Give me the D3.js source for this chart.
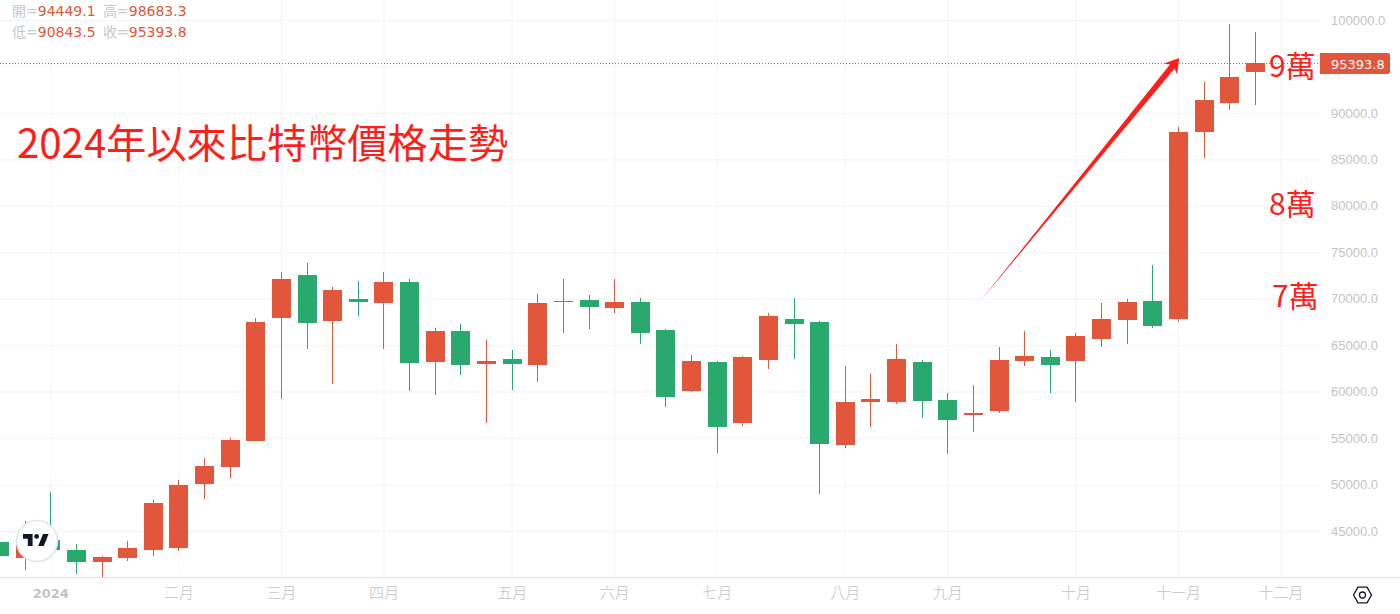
<!DOCTYPE html>
<html>
<head>
<meta charset="utf-8">
<script src="https://cdn.jsdelivr.net/npm/d3@7"></script>
<style>
  html, body { margin: 0; padding: 0; background: #fff; overflow: hidden; }
  svg { display: block; font-family: "DejaVu Sans", "Noto Sans CJK TC", sans-serif; }
  .axis text { fill: #c4c4c4; font-size: 13px; }
  .axis.months text { font-size: 15px; font-family: "Noto Sans CJK TC", sans-serif; font-weight: 300; }
  .axis .domain { display: none; }
  .axis line { stroke: #f2f3f5; }
  .note { font-family: "Noto Sans CJK TC", sans-serif; }
</style>
</head>
<body>
<svg id="chart" width="1400" height="614"></svg>
<script>
// weekly candles, BTC 2024
const opens = [43812, 42090, 44027, 42951, 41659, 42090, 42951, 43166, 50055, 51885,
  54684, 67923, 72552, 67601, 69969, 69538, 71799, 63187, 66524, 62972,
  63510, 62864, 69646, 69861, 69000, 69646, 66632, 60066, 63187, 56621,
  63403, 67816, 67493, 54253, 58882, 58882, 63187, 59097, 57482, 57913,
  63295, 63726, 63295, 65663, 67708, 69753, 67816, 87945, 91066, 94449.1];
const highs = [44800, 46073, 49194, 43597, 42305, 43920, 48333, 50486, 52854, 55007,
  67923, 72875, 73844, 71260, 71906, 72875, 72121, 66847, 67278, 65555,
  64479, 70507, 72121, 70399, 72121, 70076, 66739, 63941, 63295, 63833,
  68462, 70076, 67601, 62757, 61896, 65125, 63403, 59850, 60712, 64802,
  66524, 64479, 66309, 69538, 69969, 73628, 88483, 93327, 99570, 98683.3];
const lows = [41500, 40798, 42413, 40368, 40045, 41767, 42305, 42843, 48441, 50701,
  54684, 59205, 64587, 60819, 68139, 64587, 60066, 59635, 61788, 56621,
  60173, 61035, 66309, 66739, 68462, 65125, 58344, 59958, 53392, 56298,
  62434, 63510, 48979, 53930, 56191, 58666, 57159, 53284, 55653, 57698,
  62757, 59850, 58882, 64802, 65125, 66847, 67493, 85146, 90313, 90843.5];
const closes = [42305, 44027, 42951, 41659, 42198, 43166, 48010, 49948, 51993, 54791,
  67493, 72121, 67385, 70937, 69646, 71799, 63080, 66524, 62864, 63295,
  62972, 69538, 69753, 69108, 69646, 66309, 59420, 63295, 56191, 63726,
  68139, 67278, 54361, 58882, 59205, 63510, 58989, 56944, 57698, 63403,
  63833, 62864, 65986, 67816, 69646, 67062, 87945, 91389, 93865, 95393.8];

const priceTicks = d3.range(45000, 100001, 5000);
const monthIdx = [2, 7, 11, 15, 20, 24, 28, 33, 37, 42, 46, 50];
const monthLabels = ['2024', '二月', '三月', '四月', '五月', '六月', '七月', '八月', '九月', '十月', '十一月', '十二月'];

const legendRows = [[['開', opens], ['高', highs]], [['低', lows], ['收', closes]]];
const wanLabels = ['9萬', '8萬', '7萬'];
const title = '2024年以來比特幣價格走勢';

const upColor = '#e2563b', downColor = '#2aa96f', noteColor = '#ff1f1a';
const plotW = 1320, plotH = 577;

const svg = d3.select('#chart');

const x = d3.scaleLinear().domain([2, 50]).range([50.3, 1280.5]);
const y = d3.scaleLinear().domain([40000, 100000]).range([577.4, 20]);

svg.append('defs').append('clipPath').attr('id', 'clip')
  .append('rect').attr('width', plotW).attr('height', plotH);

// axes double as the grid
svg.append('g')
  .attr('class', 'axis months')
  .attr('transform', 'translate(0,' + plotH + ')')
  .call(d3.axisBottom(x).tickValues(monthIdx).tickSize(-plotH).tickPadding(10)
    .tickFormat((d, i) => monthLabels[i]))
  .selectAll('text')
  .filter((d, i) => i == 0)
  .style('font-family', '"DejaVu Sans", sans-serif')
  .style('font-size', '13px')
  .style('font-weight', 'bold')
  .attr('y', 12);

// the 95000 label sits under the last price tag, so it gets no text
svg.append('g')
  .attr('class', 'axis')
  .attr('transform', 'translate(' + plotW + ',0)')
  .call(d3.axisRight(y).tickValues(priceTicks).tickSize(-plotW).tickPadding(11)
    .tickFormat(d => d == 95000 ? '' : d3.format('.1f')(d)));

svg.append('line')
  .attr('x1', 0).attr('x2', 1400)
  .attr('y1', plotH + 0.5).attr('y2', plotH + 0.5)
  .attr('stroke', '#e0e3eb');

// candles
const candles = svg.append('g').attr('clip-path', 'url(#clip)')
  .selectAll('g')
  .data(opens.map((o, i) => i))
  .join('g')
  .attr('fill', i => closes[i] >= opens[i] ? upColor : downColor);

candles.append('rect')
  .attr('x', i => Math.round(x(i)))
  .attr('width', 1)
  .attr('y', i => Math.round(y(highs[i])))
  .attr('height', i => Math.round(y(lows[i])) - Math.round(y(highs[i])));

candles.append('rect')
  .attr('x', i => Math.round(x(i)) - 9)
  .attr('width', 19)
  .attr('y', i => Math.round(y(Math.max(opens[i], closes[i]))))
  .attr('height', i => Math.max(1, Math.round(y(Math.min(opens[i], closes[i]))) - Math.round(y(Math.max(opens[i], closes[i])))));

// last price line and tag
const last = closes[closes.length - 1];
const lastY = Math.round(y(last)) + 0.5;

svg.append('line')
  .attr('x1', 0).attr('x2', plotW)
  .attr('y1', lastY).attr('y2', lastY)
  .attr('stroke', upColor)
  .attr('stroke-dasharray', '1,2');

svg.append('path')
  .attr('fill', upColor)
  .attr('d', 'M' + plotW + ',' + (lastY - 10.5) + 'h68a2,2 0 0 1 2,2v17a2,2 0 0 1 -2,2h-68z');

svg.append('text')
  .attr('x', plotW + 11).attr('y', lastY + 5)
  .attr('fill', '#fff')
  .attr('font-size', 13)
  .text(last.toFixed(1));

// OHLC legend
const legend = svg.append('g').attr('font-size', 14);
legendRows.forEach((row, r) => {
  row.forEach((cell, c) => {
    const t = legend.append('text')
      .attr('x', 12 + c * 91)
      .attr('y', 16 + r * 21)
      .attr('fill', '#c8c8c8');
    t.append('tspan').text(cell[0] + '=');
    t.append('tspan').attr('fill', upColor).text(cell[1][cell[1].length - 1].toFixed(1));
  });
});

// annotations
svg.append('text')
  .attr('class', 'note')
  .attr('x', 17).attr('y', 158)
  .attr('fill', noteColor)
  .attr('font-size', 40.2)
  .text(title);

const wanX = [1269, 1269, 1272];
const wanY = [95000, 80190, 70320];
wanLabels.forEach((d, i) => {
  svg.append('text')
    .attr('class', 'note')
    .attr('x', wanX[i]).attr('y', y(wanY[i]) + 11)
    .attr('fill', noteColor)
    .attr('font-size', 30)
    .text(d);
});

// tapered arrow, ends given in index / price so it follows the scales
const ax0 = x(38.29), ay0 = y(69753), ax1 = x(46.05), ay1 = y(95910);
const ang = Math.atan2(ay1 - ay0, ax1 - ax0);
const ux = Math.cos(ang), uy = Math.sin(ang);
const pt = (along, side) => [ax1 - ux * along - uy * side, ay1 - uy * along + ux * side];
svg.append('path')
  .attr('fill', noteColor)
  .attr('d', d3.line()([
    [ax0, ay0],
    pt(11, 3),
    pt(14, 8.5),
    [ax1, ay1],
    pt(14, -8.5),
    pt(11, -3)
  ]) + 'Z');

// logo badge
const logo = svg.append('g').attr('transform', 'translate(37,541)');
logo.append('circle').attr('r', 20.5).attr('fill', '#fff').attr('stroke', '#e0e3eb').attr('stroke-width', 1.5);
logo.append('path')
  .attr('transform', 'translate(-15.6,-11.8) scale(0.8)')
  .attr('fill', '#131722')
  .attr('d', 'M14 6H2v6h6v9h6V6Zm14 15h-7l6-15h7l-6 15Zm-9-9a3 3 0 1 0 0-6 3 3 0 0 0 0 6Z');

// settings icon
const gear = svg.append('g')
  .attr('transform', 'translate(1362.5,595)')
  .attr('fill', 'none')
  .attr('stroke', '#131722')
  .attr('stroke-width', 1.3);
gear.append('path').attr('d', 'M-9,0L-4.5,-7.8H4.5L9,0L4.5,7.8H-4.5Z');
gear.append('circle').attr('r', 3);
</script>
</body>
</html>
